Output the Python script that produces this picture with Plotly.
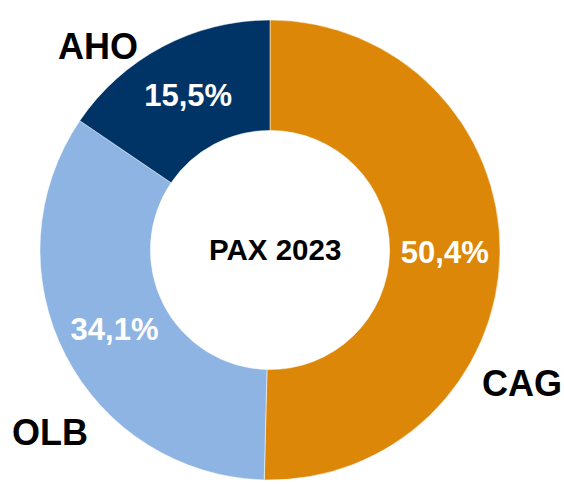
import plotly.graph_objects as go

labels = ["CAG", "OLB", "AHO"]
values = [50.4, 34.1, 15.5]
pct_text = ["50,4%", "34,1%", "15,5%"]
colors = ["#DD8708", "#8EB4E3", "#003366"]
center_title = "PAX 2023"

W, H = 564, 484
cx, cy, R = 270, 250, 230

fig = go.Figure()
fig.add_trace(go.Pie(
    labels=labels,
    values=values,
    text=pct_text,
    textinfo="text",
    textposition="inside",
    insidetextorientation="horizontal",
    textfont=dict(family="Liberation Sans, Arial", size=31, color="white", weight="bold"),
    marker=dict(colors=colors, line=dict(color="white", width=0.5)),
    hole=0.52,
    sort=False,
    direction="clockwise",
    rotation=0,
    showlegend=False,
    hoverinfo="skip",
    domain=dict(x=[(cx - R) / W, (cx + R) / W], y=[1 - (cy + R) / H, 1 - (cy - R) / H]),
))

font_lbl = dict(family="Liberation Sans, Arial", size=36, color="black", weight="bold")
label_pos = {"CAG": (522, 383), "OLB": (50, 432), "AHO": (98, 46)}
for lab in labels:
    x, y = label_pos[lab]
    fig.add_annotation(x=x / W, y=1 - y / H, xref="paper", yref="paper", text=lab,
                       showarrow=False, font=font_lbl, xanchor="center", yanchor="middle")

fig.add_annotation(x=275 / W, y=1 - 249 / H, xref="paper", yref="paper", text=center_title,
                   showarrow=False, xanchor="center", yanchor="middle",
                   font=dict(family="Liberation Sans, Arial", size=29.5, color="black", weight="bold"))

fig.update_layout(width=W, height=H, margin=dict(l=0, r=0, t=0, b=0),
                  paper_bgcolor="white", plot_bgcolor="white")
fig.write_html("out.html", config={"displayModeBar": False},
               post_script="document.body.style.margin='0';document.body.style.overflow='hidden';")
